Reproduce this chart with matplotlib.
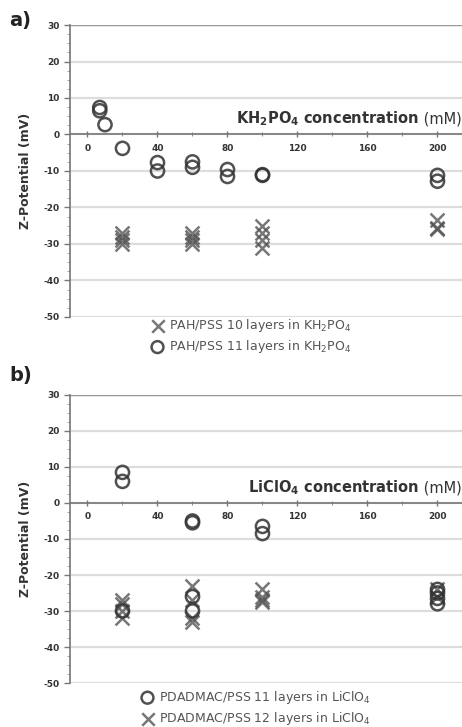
import numpy as np
import matplotlib.pyplot as plt
from matplotlib.ticker import MultipleLocator

plt.rcParams['axes.unicode_minus'] = False

# panel a: PAH/PSS in KH2PO4
a_circ_x = [7, 7, 10, 20, 40, 40, 60, 60, 80, 80, 100, 100, 200, 200]
a_circ_y = [7.4, 6.5, 2.7, -3.8, -7.7, -10, -7.5, -9, -9.6, -11.5, -11, -11.2, -11.2, -12.8]
a_x_x = [20, 20, 20, 20, 60, 60, 60, 60, 100, 100, 100, 100, 200, 200, 200]
a_x_y = [-27, -28, -29, -30, -27, -28, -29, -30, -25, -27, -29, -31, -23.5, -25.5, -26]

# panel b: PDADMAC/PSS in LiClO4
b_circ_x = [20, 20, 20, 60, 60, 60, 60, 100, 100, 200, 200, 200, 200]
b_circ_y = [8.5, 6, -30, -5, -5.5, -26, -30, -6.5, -8.5, -24, -25, -26.5, -28]
b_x_x = [20, 20, 20, 20, 60, 60, 60, 60, 100, 100, 100, 100, 200, 200]
b_x_y = [-27, -28, -30, -32, -23, -27, -32, -33, -24, -26, -27, -27.5, -24, -26]

mcol = '#555555'

def panel(ax, cx, cy, xx, xy, xlabel, leg_labels, leg_order, leg_x, leg_y):
    ax.set_xlim(-10, 214)
    ax.set_ylim(-50, 30)
    for v in range(-50, 31, 10):
        ax.axhline(v, color='#dddddd', lw=1.6, zorder=0)
    ax.axhline(30, color='#999999', lw=1.0, zorder=0)
    hx = ax.scatter(xx, xy, marker='x', s=100, color=mcol, linewidths=1.8, alpha=0.8, zorder=3)
    hc = ax.scatter(cx, cy, marker='o', s=90, facecolors='none', edgecolors='#333333',
                    linewidths=1.8, alpha=0.85, zorder=4)
    for s in ['top', 'right']:
        ax.spines[s].set_visible(False)
    ax.spines['bottom'].set_position(('data', 0))
    ax.spines['bottom'].set_color('#777777')
    ax.spines['left'].set_color('#777777')
    ax.spines['bottom'].set_linewidth(1.2)
    ax.spines['left'].set_linewidth(1.2)
    ax.xaxis.set_major_locator(MultipleLocator(40))
    ax.xaxis.set_minor_locator(MultipleLocator(20))
    ax.yaxis.set_major_locator(MultipleLocator(10))
    ax.yaxis.set_minor_locator(MultipleLocator(2.5))
    ax.tick_params(axis='x', direction='inout', length=5, width=1, colors='#777777',
                   labelcolor='#333333', labelsize=6.5, pad=4)
    ax.tick_params(axis='x', which='minor', direction='inout', length=3, colors='#777777')
    ax.tick_params(axis='y', direction='out', length=4, width=1, colors='#777777',
                   labelcolor='#333333', labelsize=6.5)
    ax.tick_params(axis='y', which='minor', direction='out', length=2, colors='#999999')
    for t in ax.get_xticklabels() + ax.get_yticklabels():
        t.set_fontweight('bold')
    ax.set_ylabel('Z-Potential (mV)', fontsize=9, fontweight='bold', color='#333333', labelpad=8)
    # unit in normal weight, the rest of the axis title in bold
    mm = ax.text(214, 3, ' (mM)', ha='right', va='baseline', fontsize=10.5, color='#333333')
    w = mm.get_window_extent(ax.figure.canvas.get_renderer()).width * 72 / ax.figure.dpi
    ax.annotate(xlabel, xy=(214, 3), xycoords='data', xytext=(-w, 0),
                textcoords='offset points', ha='right', va='baseline',
                fontsize=10.5, fontweight='bold', color='#333333')
    handles = {'x': hx, 'o': hc}
    hs = [handles[k] for k in leg_order]
    ax.legend(hs, leg_labels, loc='upper left', bbox_to_anchor=(leg_x, leg_y),
              bbox_transform=ax.figure.transFigure, frameon=False, fontsize=9,
              handletextpad=0.3, labelspacing=0.35, markerscale=0.9, labelcolor='#555555',
              borderaxespad=0, borderpad=0, handlelength=1.2)

fig = plt.figure(figsize=(4.62, 7.27), dpi=100)
ax1 = fig.add_axes([0.1515, 0.564, 0.8485, 0.4016])
ax2 = fig.add_axes([0.1515, 0.0605, 0.8485, 0.3962])

panel(ax1, a_circ_x, a_circ_y, a_x_x, a_x_y,
      r'KH$_\mathbf{2}$PO$_\mathbf{4}$ concentration',
      [r'PAH/PSS 10 layers in KH$_2$PO$_4$', r'PAH/PSS 11 layers in KH$_2$PO$_4$'],
      ['x', 'o'], 150 / 462, 1 - 317 / 727)
panel(ax2, b_circ_x, b_circ_y, b_x_x, b_x_y,
      r'LiClO$_\mathbf{4}$ concentration',
      [r'PDADMAC/PSS 11 layers in LiClO$_4$', r'PDADMAC/PSS 12 layers in LiClO$_4$'],
      ['o', 'x'], 140 / 462, 1 - 689 / 727)

fig.text(0.02, 0.985, 'a)', fontsize=14, fontweight='bold', va='top', color='#222222')
fig.text(0.02, 0.497, 'b)', fontsize=14, fontweight='bold', va='top', color='#222222')

fig.savefig('out.png', dpi=100)
